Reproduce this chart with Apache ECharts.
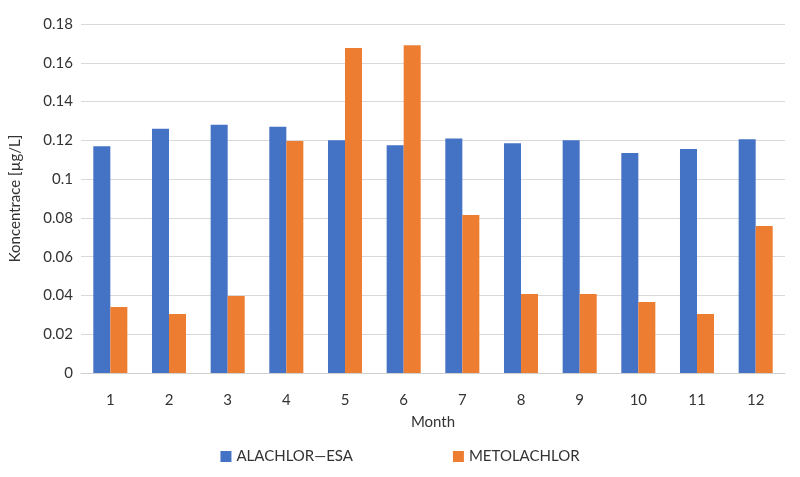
<!DOCTYPE html>
<html>
<head>
<meta charset="UTF-8">
<script src="https://cdn.jsdelivr.net/npm/echarts@6/dist/echarts.min.js"></script>
<style>html,body{margin:0;padding:0;background:#fff}#c{width:800px;height:477px}</style>
</head>
<body>
<div id="c"></div>
<script>
const months = ['1','2','3','4','5','6','7','8','9','10','11','12'];
const alachlorEsa = [0.117, 0.126, 0.128, 0.127, 0.120, 0.1175, 0.121, 0.1185, 0.120, 0.1135, 0.1155, 0.1205];
const metolachlor = [0.034, 0.0304, 0.0397, 0.1197, 0.1676, 0.169, 0.0815, 0.0407, 0.0407, 0.0366, 0.0304, 0.0758];

const font = 'Lato, "Open Sans", sans-serif';
const chart = echarts.init(document.getElementById('c'));
chart.setOption({
  textStyle: { fontFamily: font },
  grid: { left: 78, right: 15, top: 24, bottom: 104 },
  legend: {
    bottom: 8, left: 'center', itemGap: 100, itemWidth: 11, itemHeight: 11, icon: 'rect',
    textStyle: { fontSize: 15, color: '#333', fontFamily: font },
    data: ['ALACHLOR—ESA', 'METOLACHLOR']
  },
  xAxis: {
    type: 'category', data: months,
    name: 'Month', nameLocation: 'middle', nameGap: 42,
    nameTextStyle: { fontSize: 15, color: '#333' },
    axisTick: { show: false },
    axisLine: { lineStyle: { color: '#d0d0d0' } },
    axisLabel: { fontSize: 15, color: '#333', margin: 20 }
  },
  yAxis: {
    type: 'value', min: 0, max: 0.18, interval: 0.02,
    name: 'Koncentrace [µg/L]', nameLocation: 'middle', nameGap: 58,
    nameTextStyle: { fontSize: 15, color: '#333' },
    axisLabel: { fontSize: 15, color: '#333', formatter: v => String(+v.toFixed(2)) },
    splitLine: { lineStyle: { color: '#d9d9d9' } }
  },
  series: [
    { name: 'ALACHLOR—ESA', type: 'bar', data: alachlorEsa, itemStyle: { color: '#4472c4' }, barGap: '0%', barCategoryGap: '42%' },
    { name: 'METOLACHLOR', type: 'bar', data: metolachlor, itemStyle: { color: '#ed7d31' } }
  ]
});
</script>
</body>
</html>
